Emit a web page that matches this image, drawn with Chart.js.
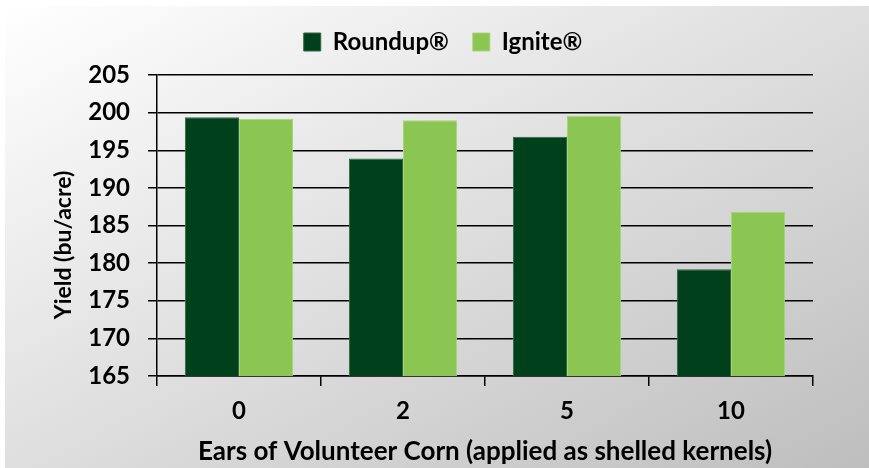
<!DOCTYPE html>
<html>
<head>
<meta charset="utf-8">
<script src="https://cdn.jsdelivr.net/npm/chart.js@4"></script>
<style>
  html, body { margin: 0; padding: 0; background: #fff; }
  #wrap {
    position: absolute; left: 5px; top: 6px; width: 864px; height: 462px;
    background: linear-gradient(to bottom right, #ffffff, #bebebe);
  }
</style>
</head>
<body>
<div id="wrap"><canvas id="chart" width="864" height="462"></canvas></div>
<script>
const categories = ['0', '2', '5', '10'];
const roundup = [199.4, 193.9, 196.8, 179.2];
const ignite = [199.2, 199.0, 199.6, 186.8];
const yTicks = [165, 170, 175, 180, 185, 190, 195, 200, 205];
const yTitle = 'Yield (bu/acre)';

const FONT = 'Lato, "Open Sans", sans-serif';

// legend height is fixed so the plot starts where the original one does
const legendHeight = {
  id: 'legendHeight',
  afterInit(chart) {
    const leg = chart.legend;
    const fit = leg.fit.bind(leg);
    leg.fit = function () { fit(); this.height = 69; };
  }
};

// y title sits a bit below the plot centre in the original
const yTitlePlugin = {
  id: 'yTitle',
  afterDraw(chart) {
    const ctx = chart.ctx;
    ctx.save();
    ctx.translate(59, 239);
    ctx.rotate(-Math.PI / 2);
    ctx.font = `bold 23px ${FONT}`;
    ctx.fillStyle = '#000';
    ctx.textAlign = 'center';
    ctx.textBaseline = 'middle';
    ctx.fillText(yTitle, 0, 0);
    ctx.restore();
  }
};

new Chart(document.getElementById('chart'), {
  type: 'bar',
  data: {
    labels: categories,
    datasets: [
      { label: 'Roundup®', data: roundup, backgroundColor: '#00401a', borderColor: '#2f6640', borderWidth: 1 },
      { label: 'Ignite®', data: ignite, backgroundColor: '#8bc653', borderColor: '#a6d47a', borderWidth: 1 }
    ]
  },
  plugins: [legendHeight, yTitlePlugin],
  options: {
    responsive: false,
    animation: false,
    categoryPercentage: 0.66,
    barPercentage: 1,
    layout: { padding: { top: 0, right: 56, left: 68, bottom: 0 } },
    plugins: {
      legend: {
        position: 'top',
        labels: {
          color: '#000',
          font: { family: FONT, size: 24, weight: 'bold' },
          boxWidth: 17,
          boxHeight: 18,
          padding: 24
        }
      },
      tooltip: { enabled: false }
    },
    scales: {
      x: {
        afterFit: axis => { axis.height = 92; },
        grid: { display: true, drawOnChartArea: false, drawTicks: true, tickLength: 10, color: '#000', lineWidth: 1.5 },
        border: { color: '#000', width: 1.5 },
        ticks: { color: '#000', font: { family: FONT, size: 24, weight: 'bold' }, padding: 11 },
        title: {
          display: true,
          text: 'Ears of Volunteer Corn (applied as shelled kernels)',
          color: '#000',
          font: { family: FONT, size: 26, weight: 'bold' },
          padding: { top: 0, bottom: 1 }
        }
      },
      y: {
        min: 165,
        max: 205,
        afterFit: axis => { axis.width = 84; },
        afterBuildTicks: axis => { axis.ticks = yTicks.map(v => ({ value: v })); },
        grid: { color: '#000', lineWidth: 1.5, tickLength: 9 },
        border: { color: '#000', width: 1.5 },
        ticks: { color: '#000', font: { family: FONT, size: 24, weight: 'bold' }, padding: 18 }
      }
    }
  }
});
</script>
</body>
</html>
